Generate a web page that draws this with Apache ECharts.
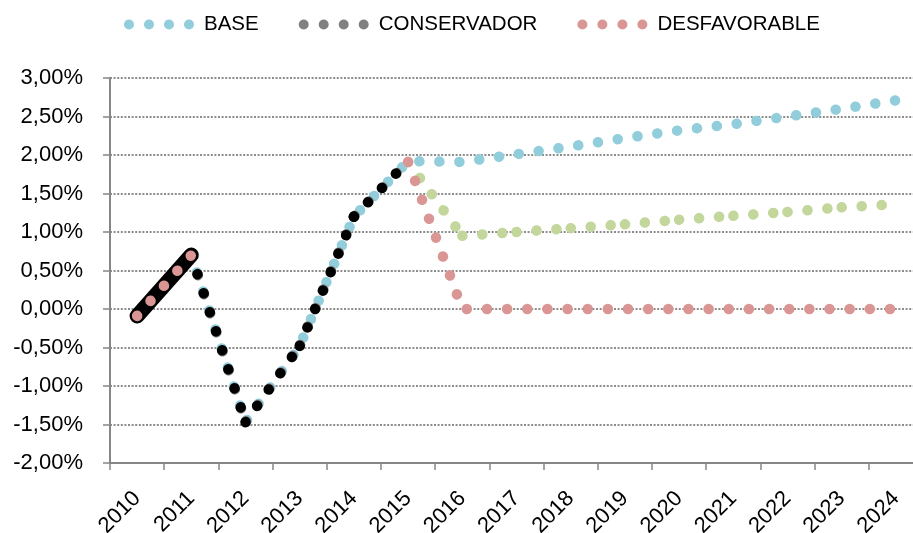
<!DOCTYPE html>
<html>
<head>
<meta charset="utf-8">
<script src="https://cdn.jsdelivr.net/npm/echarts@6/dist/echarts.min.js"></script>
<style>
  html, body { margin: 0; padding: 0; background: #fff; }
  #chart { width: 913px; height: 533px; }
</style>
</head>
<body>
<div id="chart"></div>
<script>
// Years on the horizontal axis
const years = ['2010', '2011', '2012', '2013', '2014', '2015', '2016', '2017',
               '2018', '2019', '2020', '2021', '2022', '2023', '2024'];

// Annual rate, in percent
const historico    = [-0.09, 0.70, -1.47, -0.48, 1.20, 1.92, null, null, null, null, null, null, null, null, null];
const base         = [-0.09, 0.70, -1.47, -0.48, 1.20, 1.92, 1.91, 2.01, 2.11, 2.22, 2.32, 2.40, 2.50, 2.60, 2.71];
const conservador  = [-0.09, 0.70, -1.47, -0.48, 1.20, 1.92, null, null, null, null, null, null, null, null, null];
const intermedio   = [null, null, null, null, null, 1.91, 0.95, 1.00, 1.05, 1.10, 1.16, 1.21, 1.26, 1.32, 1.36];
const desfavorable = [-0.09, 0.70, null, null, null, 1.91, 0, 0, 0, 0, 0, 0, 0, 0, 0];

// Value axis range and step (percent)
const yMin = -2, yMax = 3, yStep = 0.5;

const FONT = 'Liberation Sans';
const AXIS_GREY = '#868686';
const COLORS = {
  base: '#92CDDC',
  conservador: '#808080',
  intermedio: '#C3D69B',
  desfavorable: '#D99694',
  historico: '#000000'
};

// Round-dot line: zero-ish dashes with round caps
function dotted(color, width, period, offset) {
  return { color, width, type: [0.1, period - 0.1], cap: 'round', join: 'round', dashOffset: offset || 0 };
}

function lineSeries(name, data, lineStyle) {
  return {
    type: 'line', name, data,
    symbol: 'none', showSymbol: false, connectNulls: false,
    silent: true, animation: false,
    color: lineStyle.color,
    itemStyle: { color: lineStyle.color },
    lineStyle,
    emphasis: { disabled: true }
  };
}

// One series per pair of consecutive values, so the dot pattern restarts at each year
function perSegment(name, values, lineStyle) {
  const list = [];
  for (let i = 0; i + 1 < values.length; i++) {
    if (values[i] == null || values[i + 1] == null) continue;
    const data = values.map((v, j) => (j === i || j === i + 1) ? v : null);
    list.push(lineSeries(name, data, lineStyle));
  }
  return list;
}

// Keep only the values whose index lies in [from, to]
function keepRange(values, from, to) {
  return values.map((v, j) => (j >= from && j <= to) ? v : null);
}

// Legend glyph: four round dots
const fourDots = 'path://' + [0, 20, 40, 60].map(x =>
  `M${x},5a5,5 0 1,0 10,0a5,5 0 1,0 -10,0Z`).join('');

const series = [].concat(
  [lineSeries('BASE', base, dotted(COLORS.base, 10.5, 20, 0.3))],
  perSegment('CONSERVADOR', conservador, dotted(COLORS.conservador, 10.5, 20, -1)),
  perSegment('INTERMEDIO', intermedio, dotted(COLORS.intermedio, 10.5, 20)),
  [lineSeries('HISTÓRICO', keepRange(historico, 0, 1),
    { color: COLORS.historico, width: 15, type: 'solid', cap: 'round', join: 'round' })],
  perSegment('HISTÓRICO', historico, dotted(COLORS.historico, 10.5, 20)),
  [lineSeries('DESFAVORABLE', desfavorable, dotted(COLORS.desfavorable, 10.5, 20.15))]
);

const chart = echarts.init(document.getElementById('chart'), null, { renderer: 'canvas' });
chart.setOption({
  animation: false,
  backgroundColor: '#ffffff',
  textStyle: { fontFamily: FONT },
  legend: {
    left: 124, top: 14, padding: 0,
    itemWidth: 70, itemHeight: 10, itemGap: 40,
    icon: fourDots,
    selectedMode: false,
    itemStyle: { borderWidth: 0 },
    textStyle: { fontFamily: FONT, fontSize: 20.5, color: '#000', padding: [0, 0, 0, 5] },
    data: [
      { name: 'BASE', itemStyle: { color: COLORS.base } },
      { name: 'CONSERVADOR', itemStyle: { color: COLORS.conservador } },
      { name: 'DESFAVORABLE', itemStyle: { color: COLORS.desfavorable } }
    ]
  },
  grid: { left: 110, top: 78, width: 813, height: 385, containLabel: false, outerBoundsMode: 'none' },
  xAxis: {
    type: 'category',
    data: years,
    boundaryGap: true,
    axisLine: { show: true, onZero: false, lineStyle: { color: AXIS_GREY, width: 2 } },
    axisTick: { show: true, length: 7, interval: 0, alignWithLabel: false, lineStyle: { color: AXIS_GREY, width: 1.5 } },
    axisLabel: { interval: 0, rotate: 45, margin: 32, fontFamily: FONT, fontSize: 22, color: '#000' },
    splitLine: { show: false }
  },
  yAxis: {
    type: 'value',
    min: yMin, max: yMax, interval: yStep,
    axisLine: { show: true, lineStyle: { color: AXIS_GREY, width: 2 } },
    axisTick: { show: true, length: 7, lineStyle: { color: AXIS_GREY, width: 1.5 } },
    axisLabel: {
      margin: 27, fontFamily: FONT, fontSize: 22, color: '#000',
      formatter: v => v.toFixed(2).replace('.', ',') + '%'
    },
    splitLine: { show: true, lineStyle: { color: '#8c8c8c', width: 2, type: [2, 1.6] } }
  },
  series
});
</script>
</body>
</html>
